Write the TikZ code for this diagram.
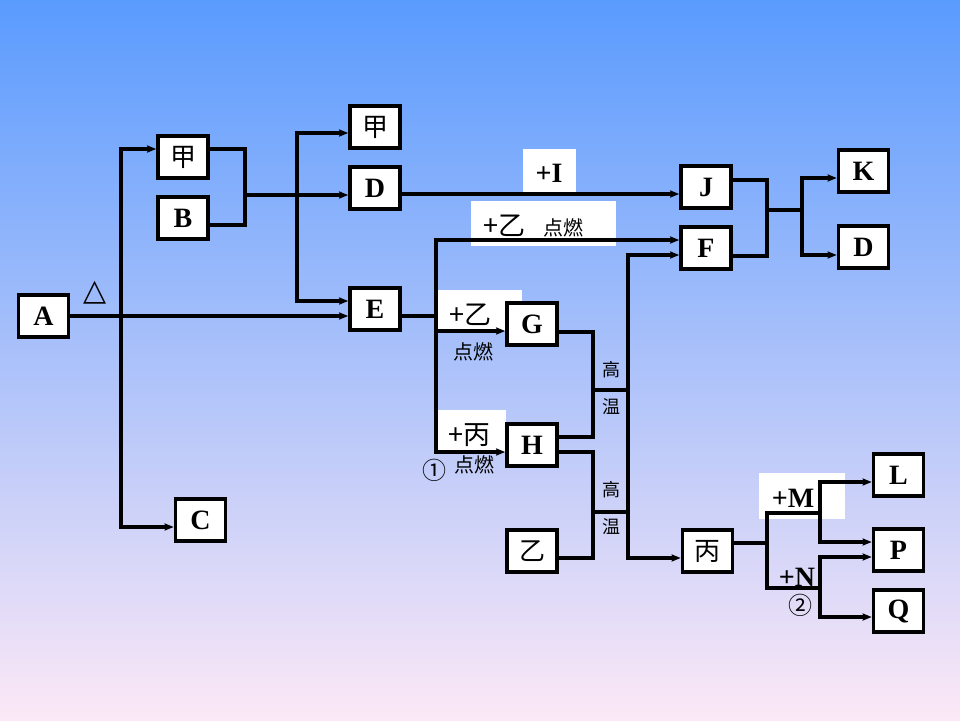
\documentclass[tikz,border=0pt]{standalone}
\usepackage{fontspec}
\setmainfont{Liberation Serif}
\newfontfamily\cjk{Noto Sans CJK SC}
\newfontfamily\dju{DejaVu Sans}
\usetikzlibrary{arrows.meta}
\definecolor{bgtop}{RGB}{90,155,254}
\definecolor{bgmid}{RGB}{138,190,246}
\definecolor{bgbot}{RGB}{252,232,246}
\tikzset{
  box/.style={draw=black, fill=white, line width=3.6pt, minimum width=50pt, minimum height=42.5pt, inner sep=0pt, font=\fontsize{28}{28}\selectfont\bfseries},
  cbox/.style={box, font=\fontsize{26}{26}\selectfont\cjk},
  conn/.style={draw=black, line width=3.2pt, line join=miter},
  arr/.style={conn, -{Stealth[length=9pt,width=7pt,inset=1pt]}},
  lbl/.style={inner sep=0pt, font=\fontsize{28}{28}\selectfont\bfseries},
  clbl/.style={inner sep=0pt, font=\fontsize{27}{27}\selectfont\cjk},
  slbl/.style={inner sep=0pt, font=\fontsize{20}{20}\selectfont\cjk},
  tlbl/.style={inner sep=0pt, font=\fontsize{18}{18}\selectfont\cjk},
}
\begin{document}
\begin{tikzpicture}[x=1pt,y=-1pt]
\useasboundingbox (0,0) rectangle (960,720);
\shade[top color=bgtop, middle color=bgmid, bottom color=bgbot] (0,0) rectangle (960,720);
% white label backgrounds
\fill[white] (523,149) rectangle (576,193);
\fill[white] (471,201) rectangle (616,246);
\fill[white] (438,290) rectangle (522,331);
\fill[white] (437,410) rectangle (506,452);
\fill[white] (759,473) rectangle (845,519);
% boxes
\node[box]  (A)    at (43.5,316)  {A};
\node[cbox] (jia1) at (183,157)   {甲};
\node[box]  (B)    at (183,218)   {B};
\node[box]  (C)    at (200.5,520) {C};
\node[cbox] (jia2) at (375,127)   {甲};
\node[box]  (D1)   at (375,188) {D};
\node[box]  (E)    at (375,309)   {E};
\node[box]  (J)    at (706,187)   {J};
\node[box]  (F)    at (706,248) {F};
\node[box]  (K)    at (863.5,171) {K};
\node[box]  (D2)   at (863.5,247) {D};
\node[box]  (G)    at (532,324)   {G};
\node[box]  (H)    at (532,445) {H};
\node[cbox] (yi)   at (532,551)   {乙};
\node[cbox] (bing) at (707.5,551) {丙};
\node[box]  (L)    at (898.5,475) {L};
\node[box]  (P)    at (898.5,550) {P};
\node[box]  (Q)    at (898.5,611) {Q};
% junction coordinates
\coordinate (sA) at (121,316);
\coordinate (m1) at (245,195);
\coordinate (s2) at (297,195);
\coordinate (sE) at (436,316);
\coordinate (m2) at (593,390);
\coordinate (m3) at (593,512);
\coordinate (sF) at (628,390);
\coordinate (m4) at (767,210);
\coordinate (s4) at (802,210);
\coordinate (sB) at (767,543);
\coordinate (sM) at (820,513);
\coordinate (sN) at (820,588);
% connectors
\draw[arr] (A.east) -- (A.east -| E.west);
\draw[arr] (sA) |- ([yshift=8pt]jia1.west);
\draw[arr] (sA) |- ([yshift=-7pt]C.west);
\draw[conn] ([yshift=8pt]jia1.east) -| (m1) |- ([yshift=-7pt]B.east);
\draw[arr] (m1) -- (m1 -| D1.west);
\draw[arr] (s2) |- ([yshift=-6pt]jia2.west);
\draw[arr] (s2) |- ([yshift=8pt]E.west);
\draw[arr] ([yshift=-6pt]D1.east) -- ([yshift=-6pt]D1.east -| J.west);
\draw[conn] ([yshift=-7pt]E.east) -- (sE);
\draw[arr] (sE) |- ([yshift=8pt]F.west);
\draw[arr] (sE) |- ([yshift=-7pt]G.west);
\draw[arr] (sE) |- ([yshift=-7pt]H.west);
\draw[conn] ([yshift=-8pt]G.east) -| (m2) |- ([yshift=8pt]H.east);
\draw[conn] (m2) -- (sF);
\draw[conn] ([yshift=-7pt]H.east) -| (m3) |- ([yshift=-7pt]yi.east);
\draw[conn] (m3) -- (m3 -| sF);
\draw[arr] (sF) |- ([yshift=-7pt]F.west);
\draw[arr] (sF) |- ([yshift=-7pt]bing.west);
\draw[conn] ([yshift=7pt]J.east) -| (m4) |- ([yshift=-8pt]F.east);
\draw[conn] (m4) -- (s4);
\draw[arr] (s4) |- ([yshift=-7pt]K.west);
\draw[arr] (s4) |- ([yshift=-8pt]D2.west);
\draw[conn] ([yshift=8pt]bing.east) -- (sB);
\draw[conn] (sM) -| (sB) |- (sN);
\draw[arr] (sM) |- ([yshift=-7pt]L.west);
\draw[arr] (sM) |- ([yshift=8pt]P.west);
\draw[arr] (sN) |- ([yshift=-7pt]P.west);
\draw[arr] (sN) |- ([yshift=-6pt]Q.west);
% labels
\node[inner sep=0pt, font=\fontsize{30}{30}\selectfont\dju] (tri) at (95,293) {△};
\node[lbl] (lI) at (549,173) {+I};
\node[clbl] (lyi1) at (504,226) {+乙};
\node[slbl] (ldr1) at (563,228) {点燃};
\node[clbl] (lyi2) at (470,315) {+乙};
\node[slbl] (ldr2) at (473,352) {点燃};
\node[clbl] (lbing) at (469,435) {+丙};
\node[inner sep=0pt, font=\fontsize{24}{24}\selectfont\cjk] (c1) at (434,470) {①};
\node[slbl] (ldr3) at (474,465) {点燃};
\node[tlbl] (g1) at (611,370) {高};
\node[tlbl] (w1) at (611,407) {温};
\node[tlbl] (g2) at (611,490) {高};
\node[tlbl] (w2) at (611,527) {温};
\node[lbl] (lM) at (793,498) {+M};
\node[lbl] (lN) at (797,577) {+N};
\node[inner sep=0pt, font=\fontsize{24}{24}\selectfont\cjk] (c2) at (800,605) {②};
\end{tikzpicture}
\end{document}
